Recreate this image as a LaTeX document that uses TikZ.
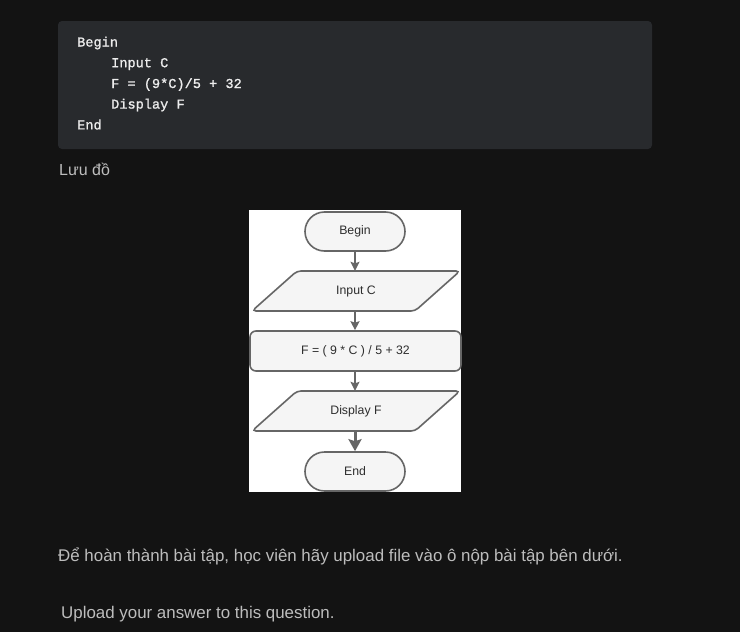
\documentclass[tikz,border=0pt]{standalone}
\usepackage{fontspec}
\setmainfont{Liberation Sans}
\newfontfamily\codefont[BoldFont=Liberation Mono, BoldFeatures={FakeBold=1.2}]{Liberation Mono}
\usetikzlibrary{arrows.meta}
\definecolor{pagebg}{HTML}{131313}
\definecolor{codebg}{HTML}{282A2D}
\definecolor{codefg}{HTML}{EDEDED}
\definecolor{bodyfg}{HTML}{BDBDBD}
\definecolor{shapefill}{HTML}{F5F5F5}
\definecolor{shapeline}{HTML}{666666}
\definecolor{shapetext}{HTML}{2E2E2E}
\tikzset{
  codeline/.style={anchor=base west, inner sep=0pt, text=codefg, font=\codefont\bfseries\fontsize{13.6}{16}\selectfont},
  bodytext/.style={anchor=base west, inner sep=0pt, text=bodyfg, font=\fontsize{16}{19}\selectfont},
  widetext/.style={bodytext, font=\fontsize{16.9}{20}\selectfont},
  fctext/.style={text=shapetext, font=\fontsize{12.3}{14}\selectfont, inner sep=0pt},
  fcline/.style={draw=shapeline, fill=shapefill, line width=1.6pt},
  terminal/.style={fcline, fctext, rounded corners=19.5pt, minimum width=100pt, minimum height=39pt},
  process/.style={fcline, fctext, rounded corners=6pt, minimum width=211pt, minimum height=40pt},
  iobox/.style={fctext, minimum width=160pt, minimum height=40pt},
  flow/.style={draw=shapeline, line width=1.3pt, -{Stealth[length=9pt,width=9pt,inset=1.5pt]}},
  flowbold/.style={draw=shapeline, line width=3pt, -{Stealth[length=12pt,width=13pt,inset=2pt]}}
}
\begin{document}
\begin{tikzpicture}[x=1pt,y=-1pt]
\fill[pagebg] (0,0) rectangle (740,632);
\useasboundingbox (0,0) rectangle (740,632);
% code block
\fill[codebg, rounded corners=4pt] (58,21) rectangle (652,149);
\node[codeline] (c1) at (77,46.5) {Begin};
\node[codeline] (c2) at (111,67.2) {Input C};
\node[codeline] (c3) at (111,88) {F = (9*C)/5 + 32};
\node[codeline] (c4) at (111,108.6) {Display F};
\node[codeline] (c5) at (77,129.4) {End};
\node[bodytext] (lbl) at (59,175) {Lưu đồ};
% flowchart image
\fill[white] (249,210) rectangle (461,492);
\node[terminal] (begin) at (355,231.5) {Begin};
\draw[fcline, rounded corners=4pt] (252,311) -- (297,271) -- (460,271) -- (415,311) -- cycle;
\node[iobox] (inC) at (356,291) {Input C};
\node[process] (calc) at (355.5,351) {F = ( 9 * C ) / 5 + 32};
\draw[fcline, rounded corners=4pt] (252,431) -- (297,391) -- (460,391) -- (415,431) -- cycle;
\node[iobox] (disp) at (356,411) {Display F};
\node[terminal] (end) at (355,471.5) {End};
\draw[flow] (begin.south) -- (begin.south |- inC.north);
\draw[flow] (begin.south |- inC.south) -- (begin.south |- calc.north);
\draw[flow] (begin.south |- calc.south) -- (begin.south |- disp.north);
\draw[flowbold] (begin.south |- disp.south) -- (end.north);
% bottom texts
\node[widetext] (t1) at (58,561) {Để hoàn thành bài tập, học viên hãy upload file vào ô nộp bài tập bên dưới.};
\node[widetext] (t2) at (61,618) {Upload your answer to this question.};
\end{tikzpicture}
\end{document}
